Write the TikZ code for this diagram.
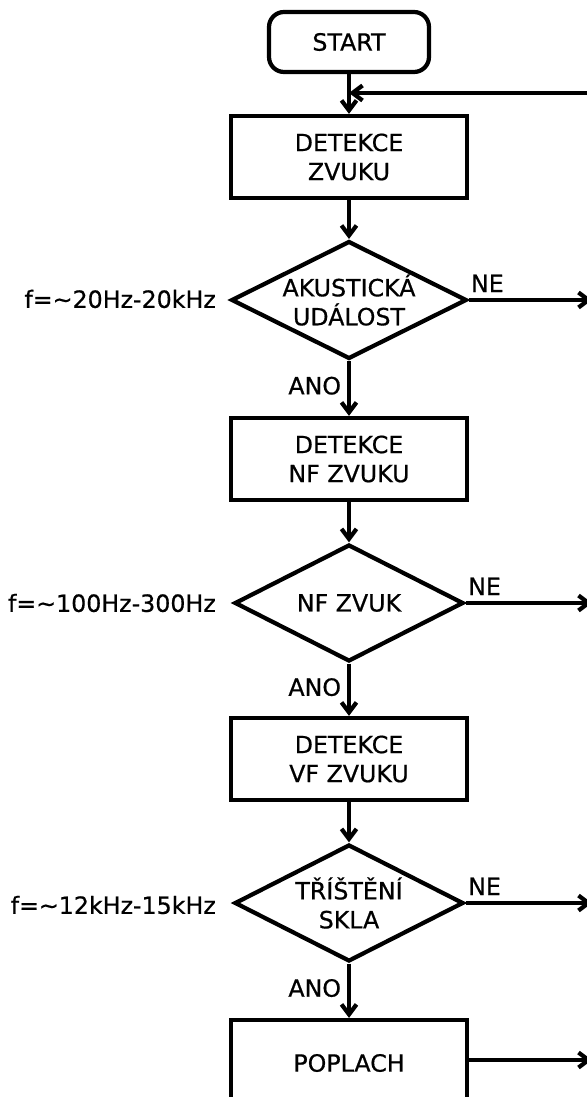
\documentclass[tikz,border=0pt]{standalone}
\usepackage{fontspec}
\setmainfont{DejaVu Sans}[FakeBold=0.6]
\usepackage{tikz}
\usetikzlibrary{arrows.meta, positioning, shapes.geometric}

\begin{document}
\begin{tikzpicture}[x=0.02cm, y=-0.02cm,
    font=\fontsize{13.5}{16.5}\selectfont,
    flow/.style={line width=2.4pt, -{Straight Barb[length=0.2cm, width=0.3cm]}},
    stepbox/.style={draw, line width=2.4pt, rectangle, align=center,
                    minimum width=4.72cm, minimum height=1.64cm},
    decide/.style={draw, line width=2.4pt, diamond, aspect=2, inner sep=0pt,
                   align=center, minimum width=4.58cm, minimum height=2.34cm},
    note/.style={anchor=east}]
  \useasboundingbox (0,0) rectangle (587,1097);
  % Start
  \node[draw, line width=2.4pt, rounded corners=0.3cm,
        minimum width=3.2cm, minimum height=1.2cm] (start) at (349,42) {START};
  % Main chain
  \node[stepbox] (zvuk) at (349,157) {DETEKCE\\ZVUKU};
  \node[decide] (akus) at (349,300) {AKUSTICKÁ\\UDÁLOST};
  \node[stepbox] (nf) at (349,459) {DETEKCE\\NF ZVUKU};
  \node[decide] (nfz) at (349,603) {NF ZVUK};
  \node[stepbox] (vf) at (349,759) {DETEKCE\\VF ZVUKU};
  \node[decide] (skla) at (349,903) {TŘÍŠTĚNÍ\\SKLA};
  \node[stepbox, minimum height=1.72cm] (alarm) at (349,1063) {POPLACH};
  % Frequency notes
  \node[note] (f1) at (222,299) {f=∼20Hz-20kHz};
  \node[note] (f2) at (222,603) {f=∼100Hz-300Hz};
  \node[note] (f3) at (222,905) {f=∼12kHz-15kHz};
  % Loop back and exits
  \coordinate (join) at (349,93);
  \coordinate (back) at (592,93);
  \coordinate (out1) at (592,300);
  \coordinate (out2) at (592,603);
  \coordinate (out3) at (592,903);
  \coordinate (out4) at (592,1060);
  \draw[flow] (start) -- (zvuk);
  \draw[flow] (back) -- (join);
  \draw[flow] (zvuk) -- (akus);
  \draw[flow] (akus) -- node[left, pos=0.45] {ANO} (nf);
  \draw[flow] (nf) -- (nfz);
  \draw[flow] (nfz) -- node[left, pos=0.45] {ANO} (vf);
  \draw[flow] (vf) -- (skla);
  \draw[flow] (skla) -- node[left, pos=0.45] {ANO} (alarm);
  \draw[flow] (akus.east) -- node[above, pos=0.15] {NE} (out1);
  \draw[flow] (nfz.east) -- node[above, pos=0.15] {NE} (out2);
  \draw[flow] (skla.east) -- node[above, pos=0.15] {NE} (out3);
  \draw[flow] (alarm.east |- out4) -- (out4);
\end{tikzpicture}
\end{document}
